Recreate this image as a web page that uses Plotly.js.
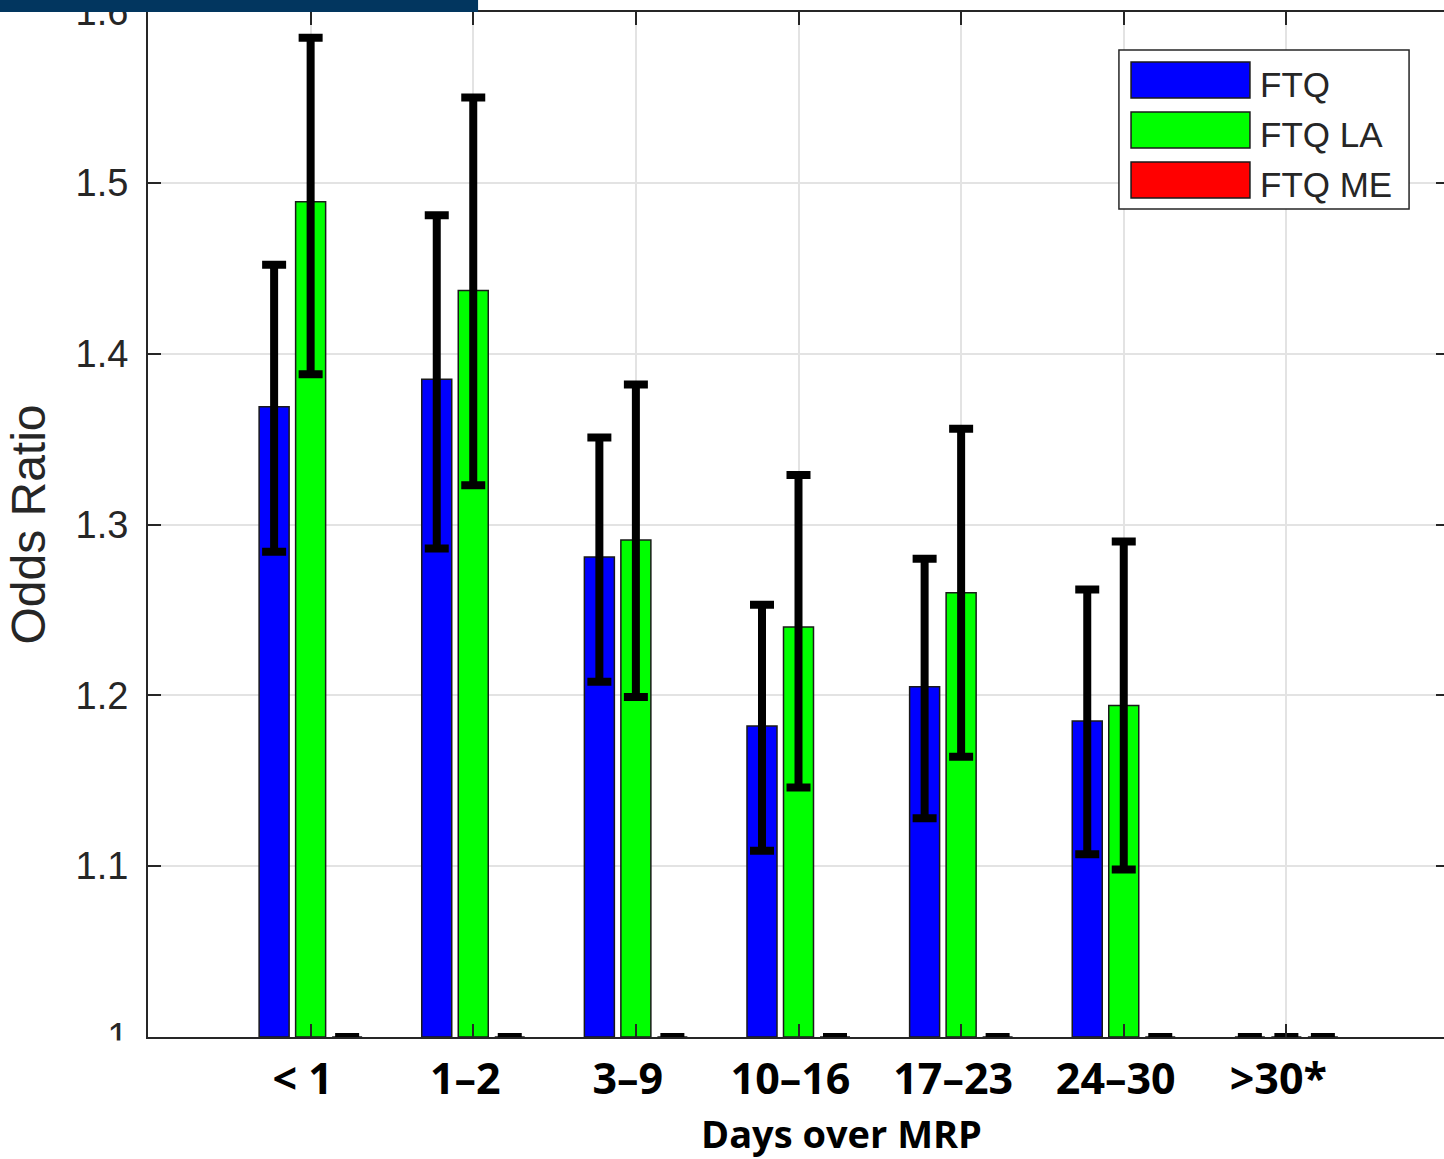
<!DOCTYPE html>
<html>
<head>
<meta charset="utf-8">
<script src="https://cdn.plot.ly/plotly-3.0.1.min.js"></script>
<style>
  html, body { margin: 0; padding: 0; overflow: hidden; background: #ffffff; }
  #chart { width: 1460px; height: 1159px; }
</style>
</head>
<body>
<div id="chart"></div>
<script>
// ---- data ----
const categories = ["< 1", "1–2", "3–9", "10–16", "17–23", "24–30", ">30*"];
const seriesNames = ["FTQ", "FTQ LA", "FTQ ME"];
const xTitle = "Days over MRP";
const yTitle = "Odds Ratio";

const ftqOR    = [1.369, 1.385, 1.281, 1.182, 1.205, 1.185, 1.0];
const ftqUpper = [1.452, 1.481, 1.351, 1.253, 1.280, 1.262, 1.0];
const ftqLower = [1.284, 1.286, 1.208, 1.109, 1.128, 1.107, 1.0];

const ftqLaOR    = [1.489, 1.437, 1.291, 1.240, 1.260, 1.194, 1.0];
const ftqLaUpper = [1.585, 1.550, 1.382, 1.329, 1.356, 1.290, 1.0];
const ftqLaLower = [1.388, 1.323, 1.199, 1.146, 1.164, 1.098, 1.0];

const ftqMeOR    = [1.0, 1.0, 1.0, 1.0, 1.0, 1.0, 1.0];
const ftqMeUpper = [1.0, 1.0, 1.0, 1.0, 1.0, 1.0, 1.0];
const ftqMeLower = [1.0, 1.0, 1.0, 1.0, 1.0, 1.0, 1.0];

const yTickVals = [1, 1.1, 1.2, 1.3, 1.4, 1.5, 1.6];
const yTickText = ["1", "1.1", "1.2", "1.3", "1.4", "1.5", "1.6"];
const baseline = 1;

const colors = ["#0000ff", "#00ff00", "#ff0000"];

function makeTrace(name, vals, upper, lower, color) {
  return {
    type: "bar",
    name: name,
    x: categories,
    y: vals.map(v => v - baseline),
    base: baseline,
    marker: { color: color, line: { color: "#1a1a1a", width: 1.5 } },
    error_y: {
      type: "data",
      symmetric: false,
      array: upper.map((u, i) => u - vals[i]),
      arrayminus: lower.map((l, i) => vals[i] - l),
      color: "#000000",
      thickness: 8,
      width: 12
    },
    cliponaxis: false,
    hovertemplate: "%{x}: %{customdata}<extra>" + name + "</extra>",
    customdata: vals
  };
}

const traces = [
  makeTrace(seriesNames[0], ftqOR, ftqUpper, ftqLower, colors[0]),
  makeTrace(seriesNames[1], ftqLaOR, ftqLaUpper, ftqLaLower, colors[1]),
  makeTrace(seriesNames[2], ftqMeOR, ftqMeUpper, ftqMeLower, colors[2])
];

// ---- custom MATLAB-style legend (wide patches) ----
const legBox = { x0: 0.7463, x1: 0.9693, y0: 0.8078, y1: 0.9629 };
const patchX = [0.7556, 0.8470];
const patchRows = [[0.9161, 0.9512], [0.8673, 0.9024], [0.8185, 0.8537]];
const textX = 0.8530;

const shapes = [
  // legend box
  { type: "rect", xref: "paper", yref: "paper", x0: legBox.x0, x1: legBox.x1, y0: legBox.y0, y1: legBox.y1,
    fillcolor: "#ffffff", line: { color: "#262626", width: 1.5 }, layer: "above" },
  // dark band at the top-left
  { type: "rect", xref: "paper", yref: "paper", x0: -0.12, x1: 0.2537, y0: 1.0, y1: 1.02,
    fillcolor: "#02365f", line: { width: 0 }, layer: "above" },
  // white mask cutting the lowest y tick label
  { type: "rect", xref: "paper", yref: "paper", x0: -0.09, x1: -0.002, y0: -0.035, y1: -0.0035,
    fillcolor: "#ffffff", line: { width: 0 }, layer: "above" }
];
const annotations = [];
seriesNames.forEach((nm, i) => {
  shapes.push({ type: "rect", xref: "paper", yref: "paper", x0: patchX[0], x1: patchX[1],
    y0: patchRows[i][0], y1: patchRows[i][1], fillcolor: colors[i],
    line: { color: "#1a1a1a", width: 1.5 }, layer: "above" });
  annotations.push({ xref: "paper", yref: "paper", x: textX, y: (patchRows[i][0] + patchRows[i][1]) / 2 - 0.004,
    xanchor: "left", yanchor: "middle", text: nm, showarrow: false,
    font: { family: "Liberation Sans, Arial, sans-serif", size: 35, color: "#262626" } });
});
// x-axis title (offset to the right as in the reference)
annotations.push({ xref: "paper", yref: "paper", x: 0.5334, y: -0.0937, xanchor: "center", yanchor: "middle",
  text: "<b>" + xTitle + "</b>", showarrow: false, borderpad: 0,
  font: { family: "Open Sans, sans-serif", size: 38, color: "#000000" } });

const layout = {
  width: 1460,
  height: 1159,
  margin: { l: 148, r: 11, t: 12, b: 122 },
  paper_bgcolor: "#ffffff",
  plot_bgcolor: "#ffffff",
  showlegend: false,
  barmode: "group",
  bargap: 0.3266,
  bargroupgap: 0.178,
  xaxis: {
    type: "category",
    range: [-1, 7],
    tickmode: "array",
    tickvals: categories,
    ticktext: categories,
    ticks: "inside",
    ticklen: 13,
    tickwidth: 1.5,
    tickcolor: "#262626",
    showline: true,
    linecolor: "#262626",
    linewidth: 2,
    mirror: "ticks",
    showgrid: true,
    gridcolor: "#e3e3e3",
    gridwidth: 1.5,
    zeroline: false,
    ticklabelstandoff: 3,
    ticklabelshift: -8,
    tickfont: { family: "Open Sans, sans-serif", size: 43, color: "#000000", weight: "bold" }
  },
  yaxis: {
    range: [1, 1.6],
    tickmode: "array",
    tickvals: yTickVals,
    ticktext: yTickText,
    ticks: "inside",
    ticklen: 13,
    tickwidth: 1.5,
    tickcolor: "#262626",
    showline: true,
    linecolor: "#262626",
    linewidth: 2,
    mirror: "ticks",
    showgrid: true,
    gridcolor: "#e3e3e3",
    gridwidth: 1.5,
    zeroline: false,
    ticklabelstandoff: 10,
    ticklabeloverflow: "allow",
    tickfont: { family: "Liberation Sans, Arial, sans-serif", size: 38, color: "#262626" },
    title: { text: yTitle, standoff: 15,
      font: { family: "Liberation Sans, Arial, sans-serif", size: 48, color: "#262626" } }
  },
  shapes: shapes,
  annotations: annotations
};

Plotly.newPlot("chart", traces, layout, { displayModeBar: false });
</script>
</body>
</html>
